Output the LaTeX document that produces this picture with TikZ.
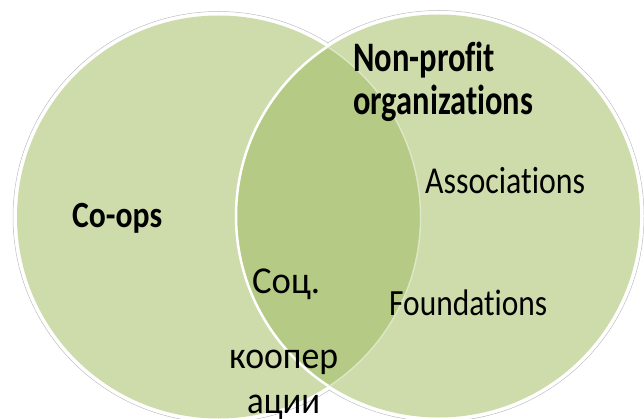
\documentclass[tikz,border=0pt]{standalone}
\usepackage{graphicx}
\usepackage{fontspec}
\setmainfont[RawFeature=-liga]{Carlito}
\newcommand\fitw[2]{\resizebox{#1}{\height}{#2}}
\definecolor{cfill}{RGB}{206,220,171}
\definecolor{cdark}{RGB}{181,202,132}
\definecolor{cedge}{RGB}{190,190,190}
\tikzset{
  lbl/.style={anchor=base west, inner sep=0pt, text=black},
}
\begin{document}
\begin{tikzpicture}[x=1pt,y=1pt]
\useasboundingbox (0,0) rectangle (644,418);
\fill[white] (0,0) rectangle (644,418);
\coordinate (L) at (218.5,201);
\coordinate (R) at (438.5,202);
% outer shadow lines and white rings
\draw[cedge, line width=0.5] (L) circle (205.5);
\draw[cedge, line width=0.5] (R) circle (205.5);
\draw[white, line width=3.5] (L) circle (203);
\draw[white, line width=3.5] (R) circle (203);
% fills
\fill[cfill] (L) circle (201.5);
\fill[cfill] (R) circle (201.5);
\begin{scope}
  \clip (L) circle (201.5);
  \fill[cdark] (R) circle (201.5);
  \draw[white, line width=2.5] (R) circle (202.5);
\end{scope}
\begin{scope}
  \clip (R) circle (201.5);
  \draw[white, opacity=0.35, line width=1.5] (L) circle (202);
\end{scope}
% texts
\node[lbl, font=\bfseries\fontsize{37}{40}\selectfont] (coops) at (72,191) {\fitw{90pt}{Co-ops}};
\node[lbl, font=\bfseries\fontsize{42}{46}\selectfont] (np1) at (353,346) {\fitw{142pt}{Non-profit}};
\node[lbl, font=\bfseries\fontsize{42}{46}\selectfont] (np2) at (353,303) {\fitw{180pt}{organizations}};
\node[lbl, font=\fontsize{38}{40}\selectfont] (assoc) at (425,225) {\fitw{160pt}{Associations}};
\node[lbl, font=\fontsize{37}{40}\selectfont] (found) at (389,103) {\fitw{158pt}{Foundations}};
\node[lbl, font=\fontsize{38}{40}\selectfont] (soc1) at (252,125) {\fitw{68pt}{Соц.}};
\node[lbl, font=\fontsize{38}{40}\selectfont] (soc2) at (229,50) {\fitw{109pt}{коопер}};
\node[lbl, font=\fontsize{38}{40}\selectfont] (soc3) at (247,5) {\fitw{73pt}{ации}};
\end{tikzpicture}
\end{document}
